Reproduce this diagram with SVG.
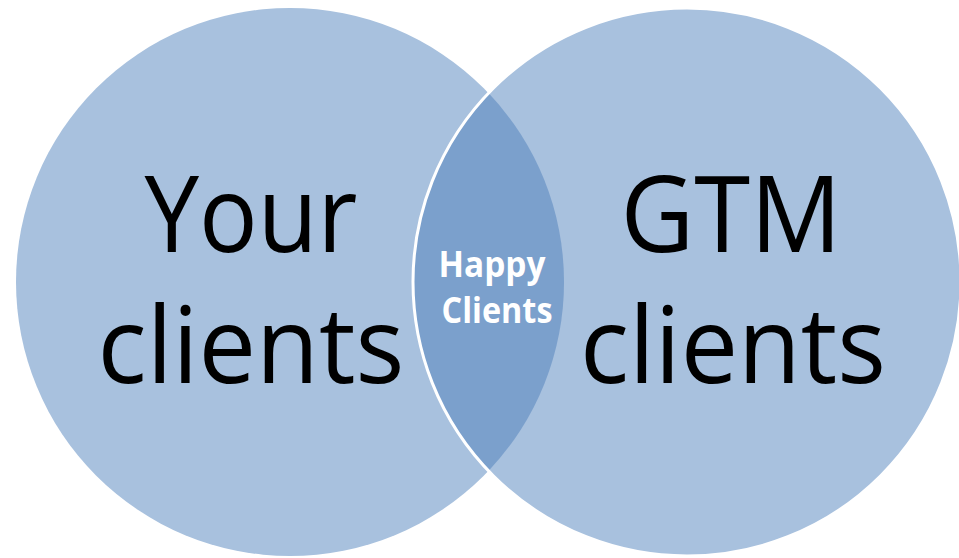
<svg xmlns="http://www.w3.org/2000/svg" width="959" height="558" viewBox="0 0 959 558">
  <style>
    .circle { fill: #A8C1DE; }
    .lens { fill: #7BA0CC; }
    .big { font-family: "Open Sans", "Liberation Sans", sans-serif; font-size: 106px; fill: #000000; text-anchor: middle; }
    .small { font-family: "Open Sans", "Liberation Sans", sans-serif; font-size: 35px; font-weight: bold; fill: #FFFFFF; text-anchor: middle; }
  </style>
  <rect width="959" height="558" fill="#FFFFFF"/>
  <g id="your-clients">
    <circle class="circle" cx="290" cy="282" r="274"/>
  </g>
  <g id="gtm-clients">
    <circle class="circle" cx="687" cy="282" r="274"/>
  </g>
  <g id="happy-clients">
    <path class="lens" d="M 488.5,93.1 A 274 274 0 0 1 488.5,470.9 A 274 274 0 0 1 488.5,93.1 Z"/>
  </g>
  <circle cx="687" cy="282" r="274" fill="none" stroke="#FFFFFF" stroke-width="3"/>
  <g id="labels">
    <text class="big" x="251" y="252" textLength="213" lengthAdjust="spacingAndGlyphs">Your</text>
    <text class="big" x="251" y="383" textLength="307" lengthAdjust="spacingAndGlyphs">clients</text>
    <text class="big" x="731" y="252" textLength="221" lengthAdjust="spacingAndGlyphs">GTM</text>
    <text class="big" x="733" y="383" textLength="306" lengthAdjust="spacingAndGlyphs">clients</text>
    <text class="small" x="492" y="277" textLength="107" lengthAdjust="spacingAndGlyphs">Happy</text>
    <text class="small" x="497" y="323" textLength="111" lengthAdjust="spacingAndGlyphs">Clients</text>
  </g>
</svg>
